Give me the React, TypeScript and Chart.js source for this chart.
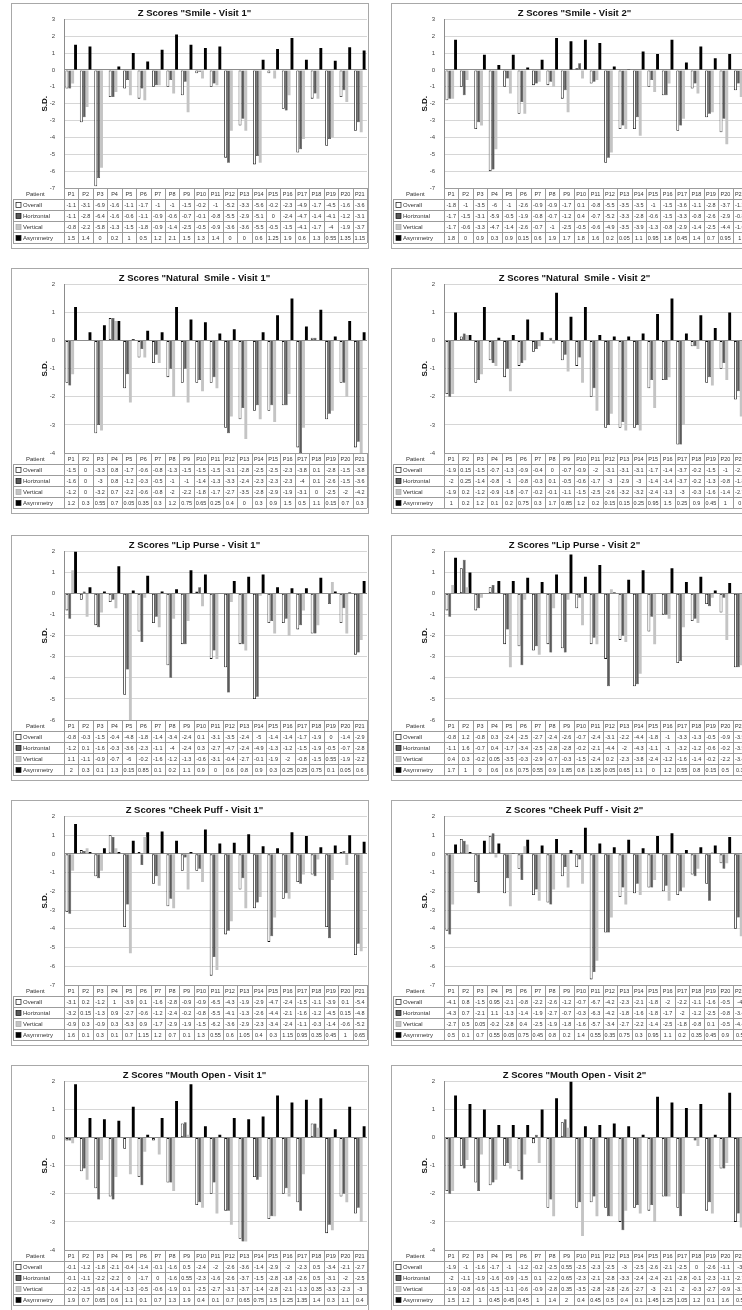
import React, { useEffect, useRef } from 'react';
import { Chart, registerables } from 'chart.js';

Chart.register(...registerables);
Chart.defaults.font.family = '"Liberation Sans", Arial, sans-serif';

// ---------- DATA ----------
const patients = ['P1','P2','P3','P4','P5','P6','P7','P8','P9','P10','P11','P12','P13','P14','P15','P16','P17','P18','P19','P20','P21'];
const seriesNames = ['Overall', 'Horizontal', 'Vertical', 'Asymmetry'];

const smileV1Overall = [-1.1,-3.1,-6.9,-1.6,-1.1,-1.7,-1,-1,-1.5,-0.2,-1,-5.2,-3.3,-5.6,-0.2,-2.3,-4.9,-1.7,-4.5,-1.6,-3.6];
const smileV1Horizontal = [-1.1,-2.8,-6.4,-1.6,-0.6,-1.1,-0.9,-0.6,-0.7,-0.1,-0.8,-5.5,-2.9,-5.1,0,-2.4,-4.7,-1.4,-4.1,-1.2,-3.1];
const smileV1Vertical = [-0.8,-2.2,-5.8,-1.3,-1.5,-1.8,-0.9,-1.4,-2.5,-0.5,-0.9,-3.6,-3.6,-5.5,-0.5,-1.5,-4.1,-1.7,-4,-1.9,-3.7];
const smileV1Asymmetry = [1.5,1.4,0,0.2,1,0.5,1.2,2.1,1.5,1.3,1.4,0,0,0.6,1.25,1.9,0.6,1.3,0.55,1.35,1.15];

const smileV2Overall = [-1.8,-1,-3.5,-6,-1,-2.6,-0.9,-0.9,-1.7,0.1,-0.8,-5.5,-3.5,-3.5,-1,-1.5,-3.6,-1.1,-2.8,-3.7,-1.2];
const smileV2Horizontal = [-1.7,-1.5,-3.1,-5.9,-0.5,-1.9,-0.8,-0.7,-1.2,0.4,-0.7,-5.2,-3.3,-2.8,-0.6,-1.5,-3.3,-0.8,-2.6,-2.9,-0.8];
const smileV2Vertical = [-1.7,-0.6,-3.3,-4.7,-1.4,-2.6,-0.7,-1,-2.5,-0.5,-0.6,-4.9,-3.5,-3.9,-1.3,-0.8,-2.9,-1.4,-2.5,-4.4,-1.6];
const smileV2Asymmetry = [1.8,0,0.9,0.3,0.9,0.15,0.6,1.9,1.7,1.8,1.6,0.2,0.05,1.1,0.95,1.8,0.45,1.4,0.7,0.95,1];

const naturalV1Overall = [-1.5,0,-3.3,0.8,-1.7,-0.6,-0.8,-1.3,-1.5,-1.5,-1.5,-3.1,-2.8,-2.5,-2.5,-2.3,-3.8,0.1,-2.8,-1.5,-3.8];
const naturalV1Horizontal = [-1.6,0,-3,0.8,-1.2,-0.3,-0.5,-1,-1,-1.4,-1.3,-3.3,-2.4,-2.3,-2.3,-2.3,-4,0.1,-2.6,-1.5,-3.6];
const naturalV1Vertical = [-1.2,0,-3.2,0.7,-2.2,-0.6,-0.8,-2,-2.2,-1.8,-1.7,-2.7,-3.5,-2.8,-2.9,-1.9,-3.1,0,-2.5,-2,-4.2];
const naturalV1Asymmetry = [1.2,0.3,0.55,0.7,0.05,0.35,0.3,1.2,0.75,0.65,0.25,0.4,0,0.3,0.9,1.5,0.5,1.1,0.15,0.7,0.3];

const naturalV2Overall = [-1.9,0.15,-1.5,-0.7,-1.3,-0.9,-0.4,0,-0.7,-0.9,-2,-3.1,-3.1,-3.1,-1.7,-1.4,-3.7,-0.2,-1.5,-1,-2.1];
const naturalV2Horizontal = [-2,0.25,-1.4,-0.8,-1,-0.8,-0.3,0.1,-0.5,-0.6,-1.7,-3,-2.9,-3,-1.4,-1.4,-3.7,-0.2,-1.3,-0.8,-1.8];
const naturalV2Vertical = [-1.9,0.2,-1.2,-0.9,-1.8,-0.7,-0.2,-0.1,-1.1,-1.5,-2.5,-2.6,-3.2,-3.2,-2.4,-1.3,-3,-0.3,-1.6,-1.4,-2.7];
const naturalV2Asymmetry = [1,0.2,1.2,0.1,0.2,0.75,0.3,1.7,0.85,1.2,0.2,0.15,0.15,0.25,0.95,1.5,0.25,0.9,0.45,1,0];

const lipV1Overall = [-0.8,-0.3,-1.5,-0.4,-4.8,-1.8,-1.4,-3.4,-2.4,0.1,-3.1,-3.5,-2.4,-5,-1.4,-1.4,-1.7,-1.9,0,-1.4,-2.9];
const lipV1Horizontal = [-1.2,0.1,-1.6,-0.3,-3.6,-2.3,-1.1,-4,-2.4,0.3,-2.7,-4.7,-2.4,-4.9,-1.3,-1.2,-1.5,-1.9,-0.5,-0.7,-2.8];
const lipV1Vertical = [1.1,-1.1,-0.9,-0.7,-6,-0.2,-1.6,-1.2,-1.3,-0.6,-3.1,-0.4,-2.7,-0.1,-1.9,-2,-0.8,-1.5,0.55,-1.9,-2.2];
const lipV1Asymmetry = [2,0.3,0.1,1.3,0.15,0.85,0.1,0.2,1.1,0.9,0,0.6,0.8,0.9,0.3,0.25,0.25,0.75,0.1,0.05,0.6];

const lipV2Overall = [-0.8,1.2,-0.8,0.3,-2.4,-2.5,-2.7,-2.4,-2.6,-0.7,-2.4,-3.1,-2.2,-4.4,-1.8,-1,-3.3,-1.3,-0.5,-0.9,-3.5];
const lipV2Horizontal = [-1.1,1.6,-0.7,0.4,-1.7,-3.4,-2.5,-2.8,-2.8,-0.2,-2.1,-4.4,-2,-4.3,-1.1,-1,-3.2,-1.2,-0.6,-0.2,-3.5];
const lipV2Vertical = [0.4,0.3,-0.2,0.05,-3.5,-0.3,-2.9,-0.7,-0.3,-1.5,-2.4,0.2,-2.3,-3.8,-2.4,-1.2,-1.6,-1.4,-0.2,-2.2,-3.4];
const lipV2Asymmetry = [1.7,1,0,0.6,0.6,0.75,0.55,0.9,1.85,0.8,1.35,0.05,0.65,1.1,0,1.2,0.55,0.8,0.15,0.5,0.3];

const cheekV1Overall = [-3.1,0.2,-1.2,1,-3.9,0.1,-1.6,-2.8,-0.9,-0.9,-6.5,-4.3,-1.9,-2.9,-4.7,-2.4,-1.5,-1.1,-3.9,0.1,-5.4];
const cheekV1Horizontal = [-3.2,0.15,-1.3,0.9,-2.7,-0.6,-1.2,-2.4,-0.2,-0.8,-5.5,-4.1,-1.3,-2.6,-4.4,-2.1,-1.6,-1.2,-4.5,0.15,-4.8];
const cheekV1Vertical = [-0.9,0.3,-0.9,0.3,-5.3,0.9,-1.7,-2.9,-1.9,-1.5,-6.2,-3.6,-2.9,-2.3,-3.4,-2.4,-1.1,-0.3,-1.4,-0.6,-5.2];
const cheekV1Asymmetry = [1.6,0.1,0.3,0.1,0.7,1.15,1.2,0.7,0.1,1.3,0.55,0.6,1.05,0.4,0.3,1.15,0.95,0.35,0.45,1,0.65];

const cheekV2Overall = [-4.1,0.8,-1.5,0.95,-2.1,-0.8,-2.2,-2.6,-1.2,-0.7,-6.7,-4.2,-2.3,-2.1,-1.8,-2,-2.2,-1.1,-1.6,-0.5,-4];
const cheekV2Horizontal = [-4.3,0.7,-2.1,1.1,-1.3,-1.4,-1.9,-2.7,-0.7,-0.3,-6.3,-4.2,-1.8,-1.6,-1.8,-1.7,-2,-1.2,-2.5,-0.8,-3.4];
const cheekV2Vertical = [-2.7,0.5,0.05,-0.2,-2.8,0.4,-2.5,-1.9,-1.8,-1.6,-5.7,-3.4,-2.7,-2.2,-1.4,-2.5,-1.8,-0.8,0.1,-0.5,-4.4];
const cheekV2Asymmetry = [0.5,0.1,0.7,0.55,0.05,0.75,0.45,0.8,0.2,1.4,0.55,0.35,0.75,0.3,0.95,1.1,0.2,0.35,0.45,0.9,0.5];

const mouthV1Overall = [-0.1,-1.2,-1.8,-2.1,-0.4,-1.4,-0.1,-1.6,0.5,-2.4,-2,-2.6,-3.6,-1.4,-2.9,-2,-2.3,0.5,-3.4,-2.1,-2.7];
const mouthV1Horizontal = [-0.1,-1.1,-2.2,-2.2,0,-1.7,0,-1.6,0.55,-2.3,-1.6,-2.6,-3.7,-1.5,-2.8,-1.8,-2.6,0.5,-3.1,-2,-2.5];
const mouthV1Vertical = [-0.2,-1.5,-0.8,-1.4,-1.3,-0.5,-0.6,-1.9,0.1,-2.5,-2.7,-3.1,-3.7,-1.4,-2.8,-2.1,-1.3,0.35,-3.3,-2.3,-3];
const mouthV1Asymmetry = [1.9,0.7,0.65,0.6,1.1,0.1,0.7,1.3,1.9,0.4,0.1,0.7,0.65,0.75,1.5,1.25,1.35,1.4,0.3,1.1,0.4];

const mouthV2Overall = [-1.9,-1,-1.6,-1.7,-1,-1.2,-0.2,-2.5,0.55,-2.5,-2.3,-2.5,-3,-2.5,-2.6,-2.1,-2.5,0,-2.6,-1.1,-3];
const mouthV2Horizontal = [-2,-1.1,-1.9,-1.6,-0.9,-1.5,0.1,-2.2,0.65,-2.3,-2.1,-2.8,-3.3,-2.4,-2.4,-2.1,-2.8,-0.1,-2.3,-1.1,-2.7];
const mouthV2Vertical = [-1.9,-0.8,-0.6,-1.5,-1.1,-0.6,-0.9,-2.8,0.35,-3.5,-2.8,-2.8,-2.6,-2.7,-3,-2.1,-2,-0.3,-2.7,-0.9,-3.2];
const mouthV2Asymmetry = [1.5,1.2,1,0.45,0.45,0.45,1,1.4,2,0.4,0.45,0.5,0.4,0.1,1.45,1.25,1.05,1.2,0.1,1.6,0.5];

const panelTitles = [
  'Z Scores "Smile - Visit 1"', 'Z Scores "Smile - Visit 2"',
  'Z Scores "Natural  Smile - Visit 1"', 'Z Scores "Natural  Smile - Visit 2"',
  'Z Scores "Lip Purse - Visit 1"', 'Z Scores "Lip Purse - Visit 2"',
  'Z Scores "Cheek Puff - Visit 1"', 'Z Scores "Cheek Puff - Visit 2"',
  'Z Scores "Mouth Open - Visit 1"', 'Z Scores "Mouth Open - Visit 2"',
];
const panelYMin = [-7, -7, -4, -4, -6, -6, -7, -7, -4, -4];
const panelYMax = [3, 3, 2, 2, 2, 2, 2, 2, 2, 2];
const panelSeries = [
  [smileV1Overall, smileV1Horizontal, smileV1Vertical, smileV1Asymmetry],
  [smileV2Overall, smileV2Horizontal, smileV2Vertical, smileV2Asymmetry],
  [naturalV1Overall, naturalV1Horizontal, naturalV1Vertical, naturalV1Asymmetry],
  [naturalV2Overall, naturalV2Horizontal, naturalV2Vertical, naturalV2Asymmetry],
  [lipV1Overall, lipV1Horizontal, lipV1Vertical, lipV1Asymmetry],
  [lipV2Overall, lipV2Horizontal, lipV2Vertical, lipV2Asymmetry],
  [cheekV1Overall, cheekV1Horizontal, cheekV1Vertical, cheekV1Asymmetry],
  [cheekV2Overall, cheekV2Horizontal, cheekV2Vertical, cheekV2Asymmetry],
  [mouthV1Overall, mouthV1Horizontal, mouthV1Vertical, mouthV1Asymmetry],
  [mouthV2Overall, mouthV2Horizontal, mouthV2Vertical, mouthV2Asymmetry],
];

// ---------- STYLE / LAYOUT ----------
const FILLS = ['#ffffff', '#5a5a5a', '#c4c4c4', '#000000'];
const BORDERS = ['#111111', '#222222', '#c4c4c4', '#000000'];
const BORDER_W = [0.8, 0.5, 0, 0];
const COL_LEFT = [11, 391];
const ROW_TOP = [3, 268, 535, 800, 1065];
const BOX_W = 358;
const BOX_H = 246;
const ROW_H = 11;

const tablePlugin = {
  id: 'dataTable',
  afterDraw(chart: any) {
    const { ctx, chartArea } = chart;
    const xs = chart.scales.x;
    const labels: string[] = chart.data.labels;
    const n = labels.length;
    const colW = (chartArea.right - chartArea.left) / n;
    const top = chartArea.bottom;
    const labelLeft = 1;
    const right = chartArea.right;
    ctx.save();
    ctx.strokeStyle = '#9c9c9c';
    ctx.lineWidth = 1;
    const line = (x0: number, y0: number, x1: number, y1: number) => {
      ctx.beginPath();
      ctx.moveTo(x0, y0);
      ctx.lineTo(x1, y1);
      ctx.stroke();
    };
    const py = (y: number) => Math.round(y) + 0.5;
    line(chartArea.left, py(top), right, py(top));
    for (let r = 1; r <= 5; r++) line(labelLeft, py(top + r * ROW_H), right, py(top + r * ROW_H));
    for (let i = 0; i <= n; i++) {
      const xx = py(chartArea.left + i * colW);
      line(xx, top, xx, top + 5 * ROW_H);
    }
    line(py(labelLeft), top + ROW_H, py(labelLeft), top + 5 * ROW_H);

    ctx.fillStyle = '#333';
    ctx.textAlign = 'center';
    ctx.textBaseline = 'middle';
    ctx.font = '5.5px "Liberation Sans", Arial, sans-serif';
    for (let i = 0; i < n; i++) {
      ctx.fillText(labels[i], xs.getPixelForValue(i), top + ROW_H / 2 + 0.5);
    }
    chart.data.datasets.forEach((ds: any, d: number) => {
      ds.data.forEach((v: number, i: number) => {
        ctx.fillText(String(v), xs.getPixelForValue(i), top + (d + 1.5) * ROW_H + 0.5);
      });
    });
    ctx.textAlign = 'left';
    ctx.font = '6px "Liberation Sans", Arial, sans-serif';
    ctx.fillText('Patient', 14, top + ROW_H / 2 + 1);
    chart.data.datasets.forEach((ds: any, d: number) => {
      const cy = top + (d + 1.5) * ROW_H + 0.5;
      ctx.fillStyle = FILLS[d];
      ctx.fillRect(labelLeft + 3, cy - 2.5, 5, 5);
      ctx.strokeStyle = d === 2 ? '#aaaaaa' : '#111';
      ctx.lineWidth = 0.7;
      ctx.strokeRect(labelLeft + 3, cy - 2.5, 5, 5);
      ctx.fillStyle = '#333';
      ctx.fillText(ds.label, labelLeft + 10, cy);
    });
    ctx.restore();
  },
};

function ZPanel({ idx }: { idx: number }) {
  const ref = useRef<HTMLCanvasElement | null>(null);
  useEffect(() => {
    if (!ref.current) return;
    const series = panelSeries[idx];
    const chart = new Chart(ref.current, {
      type: 'bar',
      data: {
        labels: patients,
        datasets: seriesNames.map((name, i) => ({
          label: name,
          data: series[i],
          backgroundColor: FILLS[i],
          borderColor: BORDERS[i],
          borderWidth: BORDER_W[i],
          borderSkipped: i === 0 ? false : 'start',
          categoryPercentage: 0.8,
          barPercentage: 1,
        })),
      },
      options: {
        responsive: false,
        animation: false,
        layout: { padding: { left: 10, right: 1, top: 0, bottom: 60 } },
        plugins: {
          legend: { display: false },
          tooltip: { enabled: false },
          title: {
            display: true,
            text: panelTitles[idx],
            color: '#111',
            font: { size: 9.5, weight: 'bold' },
            padding: { top: 4, bottom: 0 },
          },
        },
        scales: {
          x: { display: false },
          y: {
            min: panelYMin[idx],
            max: panelYMax[idx],
            ticks: { stepSize: 1, autoSkip: false, color: '#444', padding: 9, font: { size: 6 } },
            grid: {
              drawTicks: false,
              lineWidth: 1,
              color: (c: any) => (c.tick && c.tick.value === 0 ? '#8c8c8c' : '#d6d6d6'),
            },
            border: { display: true, color: '#8c8c8c' },
            title: {
              display: true,
              text: 'S.D.',
              color: '#111',
              font: { size: 8, weight: 'bold' },
              padding: { top: 18, bottom: 0 },
            },
            afterFit: (s: any) => {
              s.width = 42;
            },
          },
        },
      },
      plugins: [tablePlugin],
    } as any);
    return () => chart.destroy();
  }, [idx]);
  const left = COL_LEFT[idx % 2];
  const top = ROW_TOP[Math.floor(idx / 2)];
  return (
    <div
      style={{
        position: 'absolute',
        left,
        top,
        width: BOX_W,
        height: BOX_H,
        border: '1px solid #a8a8a8',
        boxSizing: 'border-box',
        background: '#fff',
      }}
    >
      <canvas ref={ref} width={BOX_W - 2} height={BOX_H - 2} style={{ display: 'block' }} />
    </div>
  );
}

export default function App() {
  return (
    <div
      style={{
        position: 'absolute',
        left: 0,
        top: 0,
        width: 742,
        height: 1310,
        overflow: 'hidden',
        background: '#fff',
      }}
    >
      {panelTitles.map((_, i) => (
        <ZPanel key={i} idx={i} />
      ))}
    </div>
  );
}
